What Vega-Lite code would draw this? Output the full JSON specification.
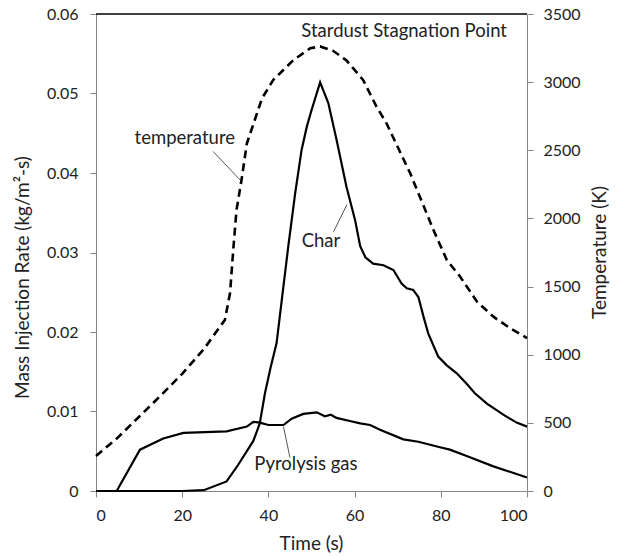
{
  "$schema": "https://vega.github.io/schema/vega-lite/v6.json",
  "width": 431,
  "height": 477,
  "autosize": {"type": "none"},
  "padding": {"left": 96, "top": 14, "right": 93, "bottom": 65},
  "background": "white",
  "config": {
    "view": {"stroke": null},
    "axis": {
      "grid": false,
      "domainColor": "#868686",
      "tickColor": "#868686",
      "tickSize": 6,
      "labelFont": "Lato",
      "titleFont": "Lato",
      "labelFontSize": 16,
      "titleFontSize": 19,
      "labelColor": "#222222",
      "titleColor": "#222222",
      "titleFontWeight": "normal",
      "titleBaseline": "middle",
      "titleAlign": "center"
    },
    "text": {"font": "Lato", "fontSize": 18.5, "color": "#222222"}
  },
  "datasets": {
    "mass": [
      {"t": 0, "v": 0, "series": "Char"},
      {"t": 20, "v": 0, "series": "Char"},
      {"t": 25, "v": 0.0001, "series": "Char"},
      {"t": 30.3, "v": 0.0012, "series": "Char"},
      {"t": 33, "v": 0.0033, "series": "Char"},
      {"t": 36.5, "v": 0.0063, "series": "Char"},
      {"t": 38, "v": 0.0085, "series": "Char"},
      {"t": 39.2, "v": 0.0123, "series": "Char"},
      {"t": 40.5, "v": 0.0155, "series": "Char"},
      {"t": 41.9, "v": 0.0186, "series": "Char"},
      {"t": 43.1, "v": 0.024, "series": "Char"},
      {"t": 44.6, "v": 0.0307, "series": "Char"},
      {"t": 46.2, "v": 0.0374, "series": "Char"},
      {"t": 47.7, "v": 0.0429, "series": "Char"},
      {"t": 48.9, "v": 0.0458, "series": "Char"},
      {"t": 50, "v": 0.0479, "series": "Char"},
      {"t": 52, "v": 0.0514, "series": "Char"},
      {"t": 53.9, "v": 0.0488, "series": "Char"},
      {"t": 55.8, "v": 0.0442, "series": "Char"},
      {"t": 58.1, "v": 0.0383, "series": "Char"},
      {"t": 60.1, "v": 0.0341, "series": "Char"},
      {"t": 61.3, "v": 0.0308, "series": "Char"},
      {"t": 62.5, "v": 0.0294, "series": "Char"},
      {"t": 64.3, "v": 0.0286, "series": "Char"},
      {"t": 66.7, "v": 0.0284, "series": "Char"},
      {"t": 69, "v": 0.0278, "series": "Char"},
      {"t": 70.9, "v": 0.0261, "series": "Char"},
      {"t": 72.1, "v": 0.0255, "series": "Char"},
      {"t": 73.6, "v": 0.0253, "series": "Char"},
      {"t": 74.8, "v": 0.0244, "series": "Char"},
      {"t": 76, "v": 0.0219, "series": "Char"},
      {"t": 77.1, "v": 0.0198, "series": "Char"},
      {"t": 79.4, "v": 0.0169, "series": "Char"},
      {"t": 81.4, "v": 0.0158, "series": "Char"},
      {"t": 83.7, "v": 0.0148, "series": "Char"},
      {"t": 86, "v": 0.0135, "series": "Char"},
      {"t": 87.9, "v": 0.0123, "series": "Char"},
      {"t": 90.7, "v": 0.011, "series": "Char"},
      {"t": 94.5, "v": 0.0096, "series": "Char"},
      {"t": 97.6, "v": 0.0086, "series": "Char"},
      {"t": 100, "v": 0.0081, "series": "Char"},
      {"t": 0, "v": 0, "series": "Pyrolysis gas"},
      {"t": 4.8, "v": 0, "series": "Pyrolysis gas"},
      {"t": 10.2, "v": 0.0052, "series": "Pyrolysis gas"},
      {"t": 15.6, "v": 0.0066, "series": "Pyrolysis gas"},
      {"t": 20.3, "v": 0.0073, "series": "Pyrolysis gas"},
      {"t": 30.3, "v": 0.0075, "series": "Pyrolysis gas"},
      {"t": 35, "v": 0.0081, "series": "Pyrolysis gas"},
      {"t": 36.5, "v": 0.0087, "series": "Pyrolysis gas"},
      {"t": 38, "v": 0.0086, "series": "Pyrolysis gas"},
      {"t": 40, "v": 0.0083, "series": "Pyrolysis gas"},
      {"t": 43.5, "v": 0.0083, "series": "Pyrolysis gas"},
      {"t": 45.4, "v": 0.0091, "series": "Pyrolysis gas"},
      {"t": 48.1, "v": 0.0097, "series": "Pyrolysis gas"},
      {"t": 51.2, "v": 0.0099, "series": "Pyrolysis gas"},
      {"t": 53.1, "v": 0.0094, "series": "Pyrolysis gas"},
      {"t": 54.5, "v": 0.0096, "series": "Pyrolysis gas"},
      {"t": 55.8, "v": 0.0092, "series": "Pyrolysis gas"},
      {"t": 58.9, "v": 0.0088, "series": "Pyrolysis gas"},
      {"t": 61.3, "v": 0.0085, "series": "Pyrolysis gas"},
      {"t": 63.6, "v": 0.0083, "series": "Pyrolysis gas"},
      {"t": 65.9, "v": 0.0077, "series": "Pyrolysis gas"},
      {"t": 71.3, "v": 0.0065, "series": "Pyrolysis gas"},
      {"t": 74.8, "v": 0.0062, "series": "Pyrolysis gas"},
      {"t": 79.8, "v": 0.0055, "series": "Pyrolysis gas"},
      {"t": 82.1, "v": 0.0052, "series": "Pyrolysis gas"},
      {"t": 86, "v": 0.0044, "series": "Pyrolysis gas"},
      {"t": 92.2, "v": 0.0031, "series": "Pyrolysis gas"},
      {"t": 100, "v": 0.0017, "series": "Pyrolysis gas"}
    ],
    "temp": [
      {"t": 0, "temp": 257},
      {"t": 5, "temp": 390},
      {"t": 10, "temp": 545},
      {"t": 15, "temp": 700},
      {"t": 20, "temp": 860},
      {"t": 25, "temp": 1040},
      {"t": 29.9, "temp": 1255},
      {"t": 31.1, "temp": 1452},
      {"t": 31.9, "temp": 1792},
      {"t": 32.6, "temp": 2061},
      {"t": 33.8, "temp": 2290},
      {"t": 35, "temp": 2550},
      {"t": 36.5, "temp": 2690},
      {"t": 38.5, "temp": 2880},
      {"t": 41.1, "temp": 3015},
      {"t": 45.8, "temp": 3162},
      {"t": 49.7, "temp": 3248},
      {"t": 52, "temp": 3262},
      {"t": 55, "temp": 3230},
      {"t": 58.1, "temp": 3160},
      {"t": 62, "temp": 3015},
      {"t": 65.1, "temp": 2819},
      {"t": 67.4, "temp": 2698},
      {"t": 72.9, "temp": 2331},
      {"t": 78.5, "temp": 1900},
      {"t": 81.4, "temp": 1695},
      {"t": 84.5, "temp": 1572},
      {"t": 88.4, "temp": 1389},
      {"t": 92.2, "temp": 1279},
      {"t": 96.1, "temp": 1194},
      {"t": 100, "temp": 1122}
    ],
    "labels": [
      {"t": 71.5, "v": 0.0579, "label": "Stardust Stagnation Point"},
      {"t": 20.6, "v": 0.0444, "label": "temperature"},
      {"t": 52.2, "v": 0.0314, "label": "Char"},
      {"t": 48.7, "v": 0.0034, "label": "Pyrolysis gas"}
    ],
    "leaders": [
      {"t": 27.2, "v": 0.0427, "t2": 34.0, "v2": 0.0388},
      {"t": 55.1, "v": 0.0326, "t2": 58.2, "v2": 0.036},
      {"t": 45.0, "v": 0.0042, "t2": 43.5, "v2": 0.0081}
    ],
    "border": [
      {"t": 0, "t2": 100, "v": 0.06}
    ]
  },
  "layer": [
    {
      "encoding": {
        "x": {
          "field": "t", "type": "quantitative",
          "scale": {"domain": [0, 100], "nice": false},
          "axis": {"values": [0, 20, 40, 60, 80, 100], "title": "Time (s)", "labelPadding": 10, "titleX": 215, "titleY": 52}
        },
        "y": {
          "field": "v", "type": "quantitative",
          "scale": {"domain": [0, 0.06], "nice": false},
          "axis": {"values": [0, 0.01, 0.02, 0.03, 0.04, 0.05, 0.06], "format": "~g", "title": "Mass Injection Rate (kg/m²-s)", "labelPadding": 12, "titleX": -74, "titleY": 263, "titleAngle": -90}
        }
      },
      "layer": [
        {
          "data": {"name": "border"},
          "mark": {"type": "rule", "color": "#000000", "strokeWidth": 1.5},
          "encoding": {"x2": {"field": "t2"}}
        },
        {
          "data": {"name": "mass"},
          "mark": {"type": "line", "color": "#000000", "strokeWidth": 2.2},
          "encoding": {"detail": {"field": "series", "type": "nominal"}}
        },
        {
          "data": {"name": "leaders"},
          "mark": {"type": "rule", "color": "#555555", "strokeWidth": 1},
          "encoding": {"x2": {"field": "t2"}, "y2": {"field": "v2"}}
        },
        {
          "data": {"name": "labels"},
          "mark": {"type": "text", "align": "center", "baseline": "middle"},
          "encoding": {"text": {"field": "label", "type": "nominal"}}
        }
      ]
    },
    {
      "data": {"name": "temp"},
      "mark": {"type": "line", "color": "#000000", "strokeWidth": 2.6, "strokeDash": [8, 5]},
      "encoding": {
        "x": {"field": "t", "type": "quantitative"},
        "y": {
          "field": "temp", "type": "quantitative",
          "scale": {"domain": [0, 3500], "nice": false},
          "axis": {"orient": "right", "values": [0, 500, 1000, 1500, 2000, 2500, 3000, 3500], "format": "d", "title": "Temperature (K)", "labelPadding": 10, "titleAngle": 270, "titleX": 72, "titleY": 238}
        }
      }
    }
  ],
  "resolve": {"scale": {"y": "independent"}}
}
